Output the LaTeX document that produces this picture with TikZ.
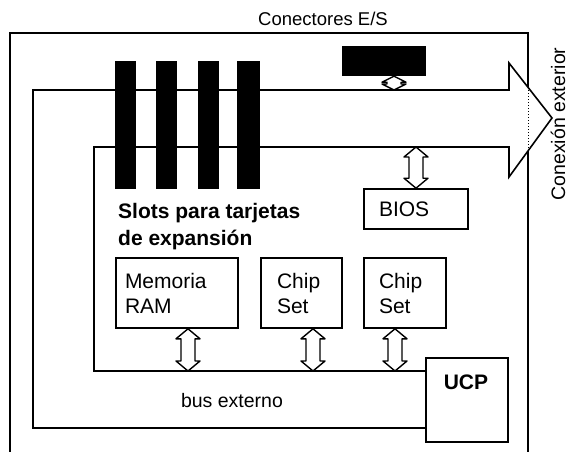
\documentclass[tikz,border=0pt]{standalone}
\usepackage{fontspec}
\setmainfont{Liberation Sans}
\usetikzlibrary{calc}
\newcommand\dblarrow[3][10]{%
  \draw[dblarr] (#2) -- ($(#2)+(-12,#1)$) -- ($(#2)+(-7,#1)$) -- ($(#3)+(-7,-#1)$) -- ($(#3)+(-12,-#1)$) -- (#3) -- ($(#3)+(12,-#1)$) -- ($(#3)+(7,-#1)$) -- ($(#2)+(7,#1)$) -- ($(#2)+(12,#1)$) -- cycle;}
\begin{document}
\begin{tikzpicture}[x=1pt,y=-1pt,
  line/.style={line width=1.6pt},
  box/.style={draw, line width=1.6pt, fill=white, inner ysep=0pt, align=left, font=\fontsize{21}{25}\selectfont},
  slot/.style={fill=black, minimum width=21pt, minimum height=128pt, inner sep=0pt},
  dblarr/.style={draw, line width=1.4pt, fill=white, line join=round},
  lbl/.style={inner sep=0pt, font=\fontsize{19}{22}\selectfont}]
\useasboundingbox[fill=white] (0,0) rectangle (570,452);

% frame
\draw[line] (10,453) -- (10,33) -- (528,33) -- (528,87);
\draw[line width=1pt, dotted] (528,90) -- (528,149);
\draw[line] (528,151) -- (528,453);

% boxes
\node[box, minimum width=122pt, minimum height=70pt, inner xsep=9pt, text width=104pt] (ram) at (177,293) {Memoria\\RAM};
\node[box, minimum width=81pt, minimum height=70pt, inner xsep=16pt, text width=49pt] (chip1) at (301.5,293) {Chip\\Set};
\node[box, minimum width=82pt, minimum height=70pt, inner xsep=15pt, text width=52pt] (chip2) at (405,293) {Chip\\Set};
\node[box, minimum width=104pt, minimum height=40pt, inner xsep=15pt, text width=74pt] (bios) at (416,209) {BIOS};
\node[box, minimum width=82pt, minimum height=84pt] (ucp) at (467,400) {};
\node[inner sep=0pt, font=\bfseries\fontsize{21}{25}\selectfont] (ucplbl) at (466,382) {UCP};

% bus
\draw[line, line join=miter] (ucp.west |- 0,428) -- (33,428) -- (33,90) -- (509,90) -- (509,63) -- (552,118) -- (509,177) -- (509,147) -- (94,147) -- (94,371) -- (ucp.west |- 0,371);

% slots
\node[slot] (s1) at (125.5,125) {};
\node[slot] (s2) at (166.5,125) {};
\node[slot] (s3) at (208,125) {};
\node[slot, minimum width=23pt] (s4) at (248.5,125) {};

% I/O connector
\node[fill=black, minimum width=84pt, minimum height=30pt, inner sep=0pt] (io) at (384,61) {};

% coordinates for arrows
\coordinate (ioT) at (394,0 |- io.south);
\coordinate (ioB) at (394,90);
\coordinate (biosT) at (bios.north |- 0,147);
\coordinate (ramB) at (188,371);
\coordinate (ramT) at (188,0 |- ram.south);
\coordinate (c1B) at (313,371);
\coordinate (c1T) at (313,0 |- chip1.south);
\coordinate (c2B) at (395,371);
\coordinate (c2T) at (395,0 |- chip2.south);

\dblarrow[6]{ioT}{ioB}
\dblarrow{biosT}{bios.north}
\dblarrow{ramT}{ramB}
\dblarrow{c1T}{c1B}
\dblarrow{c2T}{c2B}

% labels
\node[lbl, font=\fontsize{18.5}{22}\selectfont] (conlbl) at (323,19) {Conectores E/S};
\node[lbl, font=\fontsize{19.5}{22}\selectfont, rotate=90] (extlbl) at (558,124) {Conexión exterior};
\node[lbl, anchor=west, align=left, font=\bfseries\fontsize{21}{27}\selectfont] (slotlbl) at (118,227) {Slots para tarjetas\\de expansión};
\node[lbl, font=\fontsize{19.5}{22}\selectfont] (buslbl) at (232,401) {bus externo};
\end{tikzpicture}
\end{document}
